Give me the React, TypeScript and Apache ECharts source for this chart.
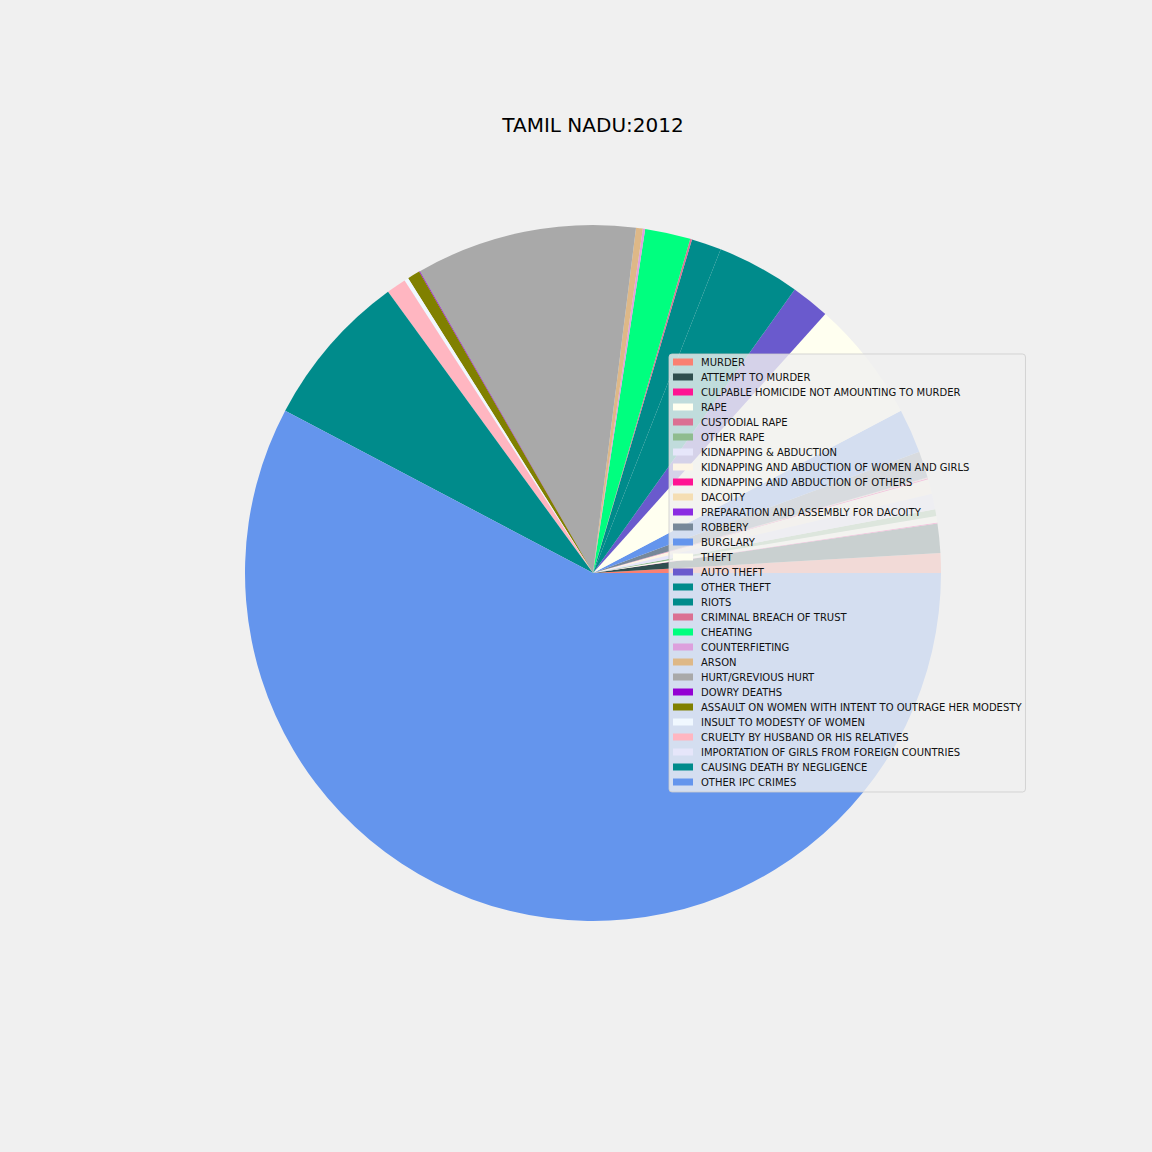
import React, { useEffect, useRef } from "react";
import * as echarts from "echarts";

const TITLE = "TAMIL NADU:2012";

const categories: string[] = [
  "MURDER",
  "ATTEMPT TO MURDER",
  "CULPABLE HOMICIDE NOT AMOUNTING TO MURDER",
  "RAPE",
  "CUSTODIAL RAPE",
  "OTHER RAPE",
  "KIDNAPPING & ABDUCTION",
  "KIDNAPPING AND ABDUCTION OF WOMEN AND GIRLS",
  "KIDNAPPING AND ABDUCTION OF OTHERS",
  "DACOITY",
  "PREPARATION AND ASSEMBLY FOR DACOITY",
  "ROBBERY",
  "BURGLARY",
  "THEFT",
  "AUTO THEFT",
  "OTHER THEFT",
  "RIOTS",
  "CRIMINAL BREACH OF TRUST",
  "CHEATING",
  "COUNTERFIETING",
  "ARSON",
  "HURT/GREVIOUS HURT",
  "DOWRY DEATHS",
  "ASSAULT ON WOMEN WITH INTENT TO OUTRAGE HER MODESTY",
  "INSULT TO MODESTY OF WOMEN",
  "CRUELTY BY HUSBAND OR HIS RELATIVES",
  "IMPORTATION OF GIRLS FROM FOREIGN COUNTRIES",
  "CAUSING DEATH BY NEGLIGENCE",
  "OTHER IPC CRIMES",
];

const values: number[] = [
  1880, 2800, 90, 630, 0, 630, 1500, 1400, 100, 85, 10, 2530, 4230, 11640,
  3690, 7950, 2860, 170, 4350, 220, 650, 21130, 85, 1200, 400, 1890, 0, 14930,
  118860,
];

const colors: string[] = [
  "#FA8072", "#2F4F4F", "#FF1493", "#FFFFF0", "#DB7093", "#8FBC8F", "#E6E6FA",
  "#FDF5E6", "#FF1493", "#F5DEB3", "#8A2BE2", "#778899", "#6495ED", "#FFFFF0",
  "#6A5ACD", "#008B8B", "#008B8B", "#DB7093", "#00FF7F", "#DDA0DD", "#DEB887",
  "#A9A9A9", "#9400D3", "#808000", "#F0F8FF", "#FFB6C1", "#E6E6FA", "#008B8B",
  "#6495ED",
];

export default function App() {
  const ref = useRef<HTMLDivElement>(null);
  useEffect(() => {
    document.body.style.margin = "0";
    document.body.style.background = "#F0F0F0";
    const chart = echarts.init(ref.current!, null, { renderer: "svg" });
    const data = categories.map((name, i) => ({
      name,
      value: values[i],
      itemStyle: { color: colors[i] },
    }));
    chart.setOption({
      animation: false,
      backgroundColor: "#F0F0F0",
      title: {
        text: TITLE,
        left: 588,
        top: 110,
        textAlign: "center",
        textStyle: {
          fontFamily: "DejaVu Sans",
          fontSize: 20,
          fontWeight: "normal",
          color: "#000",
        },
      },
      legend: {
        orient: "vertical",
        left: 669,
        top: 354,
        padding: [2, 4, 4, 4],
        itemGap: 3,
        itemWidth: 20,
        itemHeight: 7,
        icon: "rect",
        selectedMode: false,
        backgroundColor: "rgba(240,240,240,0.8)",
        borderColor: "rgba(204,204,204,0.8)",
        borderWidth: 1,
        borderRadius: 3,
        textStyle: {
          fontFamily: "DejaVu Sans",
          fontSize: 10,
          lineHeight: 12,
          color: "#111",
          padding: [0, 0, 0, 3],
        },
        data: categories,
      },
      series: [
        {
          type: "pie",
          center: [593, 573],
          radius: [0, 348],
          startAngle: 0,
          clockwise: false,
          avoidLabelOverlap: false,
          label: { show: false },
          labelLine: { show: false },
          emphasis: { disabled: true },
          itemStyle: { borderWidth: 0 },
          data,
        },
      ],
    });
    return () => chart.dispose();
  }, []);
  return <div ref={ref} style={{ width: 1152, height: 1152 }} />;
}
